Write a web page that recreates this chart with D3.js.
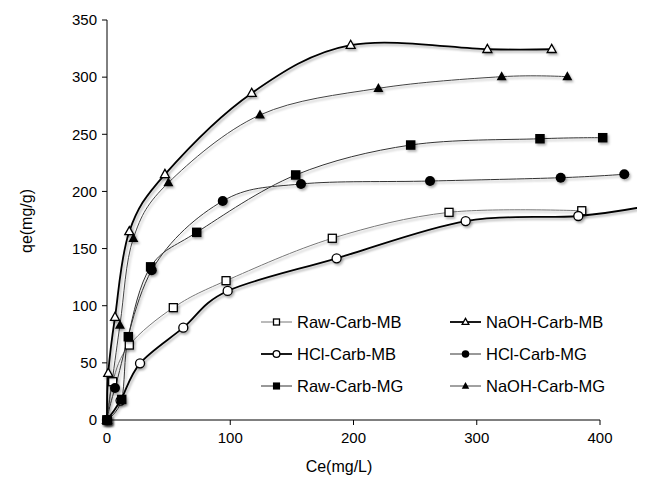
<!DOCTYPE html>
<html><head><meta charset="utf-8">
<script src="https://cdn.jsdelivr.net/npm/d3@7"></script>
<style>body{margin:0;background:#fff;}svg{display:block;font-family:"Liberation Sans",Arial,sans-serif;}</style>
</head><body><svg id="c" width="657" height="478"></svg>
<script>
const seriesNames = ["Raw-Carb-MB","NaOH-Carb-MB","HCl-Carb-MB","HCl-Carb-MG","Raw-Carb-MG","NaOH-Carb-MG"];
const rawMB_x = [0, 4.6, 18.1, 53.8, 96.6, 182.8, 277.5, 385.2];
const rawMB_y = [0, 33.5, 65.6, 98.3, 121.9, 159, 181.7, 183.1];
const naohMB_x = [0, 1, 6.5, 18.1, 47, 117.4, 197.7, 308.6, 360.8];
const naohMB_y = [0, 41, 90, 165, 215, 286, 328, 324.4, 324.4];
const hclMB_x = [0, 11, 26.8, 61.9, 97.9, 186.3, 291, 382.4, 445];
const hclMB_y = [0, 17, 49.6, 80.8, 112.9, 141.5, 174.1, 178.5, 188.5];
const hclMG_x = [0, 6.5, 36.3, 93.9, 157.4, 262.1, 368.1, 419.7];
const hclMG_y = [0, 28, 131, 191.6, 206.5, 209.1, 212, 215];
const rawMG_x = [0, 11.9, 17.3, 35.4, 72.8, 153.1, 246.4, 351.3, 402.2];
const rawMG_y = [0, 18, 72.9, 134, 164.2, 214.4, 240.6, 246.1, 247];
const naohMG_x = [0, 10.5, 21.4, 49.8, 124.1, 220.2, 320.2, 373.5];
const naohMG_y = [0, 83, 159, 207.6, 266.9, 290.2, 300.4, 300.4];
const xTicks = [0, 100, 200, 300, 400];
const yTicks = [0, 50, 100, 150, 200, 250, 300, 350];

const svg = d3.select("#c");
const x = d3.scaleLinear().domain([0, 400]).range([107, 600]);
const y = d3.scaleLinear().domain([0, 350]).range([420, 20]);

const defs = svg.append("defs");
const f = defs.append("filter").attr("id","sh").attr("x","-50%").attr("y","-50%").attr("width","200%").attr("height","200%");
f.append("feDropShadow").attr("dx",1.5).attr("dy",2).attr("stdDeviation",1.2).attr("flood-color","#000").attr("flood-opacity",0.3);
defs.append("clipPath").attr("id","pa").append("rect").attr("x",0).attr("y",0).attr("width",637).attr("height",440);

const zip = (xs, ys) => xs.map((v, i) => [v, ys[i]]);
const series = [
  {name: seriesNames[0], pts: zip(rawMB_x, rawMB_y), marker: "square", fill: "#fff", stroke: "#777", w: 1, ms: 8},
  {name: seriesNames[1], pts: zip(naohMB_x, naohMB_y), marker: "triangle", fill: "#fff", stroke: "#000", w: 1.8, ms: 9},
  {name: seriesNames[2], pts: zip(hclMB_x, hclMB_y), marker: "circle", fill: "#fff", stroke: "#000", w: 1.8, ms: 9},
  {name: seriesNames[3], pts: zip(hclMG_x, hclMG_y), marker: "circle", fill: "#000", stroke: "#333", w: 1, ms: 10},
  {name: seriesNames[4], pts: zip(rawMG_x, rawMG_y), marker: "square", fill: "#000", stroke: "#333", w: 1, ms: 9.5},
  {name: seriesNames[5], pts: zip(naohMG_x, naohMG_y), marker: "triangle", fill: "#000", stroke: "#444", w: 1, ms: 10}
];

function drawMarker(g, type, cx, cy, size, fill, open) {
  const sw = open ? 1.3 : 0;
  const stroke = "#000";
  if (type === "square") {
    g.append("rect").attr("x", cx - size/2).attr("y", cy - size/2).attr("width", size).attr("height", size)
      .attr("fill", fill).attr("stroke", stroke).attr("stroke-width", sw);
  } else if (type === "circle") {
    g.append("circle").attr("cx", cx).attr("cy", cy).attr("r", size/2)
      .attr("fill", fill).attr("stroke", stroke).attr("stroke-width", sw);
  } else {
    const h = size * 0.9;
    g.append("path").attr("d", `M${cx},${cy - h*0.6}L${cx + size/2},${cy + h*0.4}L${cx - size/2},${cy + h*0.4}Z`)
      .attr("fill", fill).attr("stroke", stroke).attr("stroke-width", sw);
  }
}

// axes
const ax = svg.append("g").attr("stroke", "#000").attr("stroke-width", 1);
ax.append("line").attr("x1", x(0)).attr("x2", x(0)).attr("y1", y(350)).attr("y2", y(0));
ax.append("line").attr("x1", x(0)).attr("x2", x(400)).attr("y1", y(0)).attr("y2", y(0));
yTicks.forEach(t => ax.append("line").attr("x1", x(0) - 5).attr("x2", x(0)).attr("y1", y(t)).attr("y2", y(t)));
xTicks.forEach(t => ax.append("line").attr("x1", x(t)).attr("x2", x(t)).attr("y1", y(0)).attr("y2", y(0) + 5));

svg.append("g").selectAll("text").data(yTicks).join("text")
  .attr("x", x(0) - 10).attr("y", d => y(d)).attr("dy", "0.35em").attr("text-anchor", "end")
  .attr("font-size", 15).attr("fill", "#000").text(d => d);
svg.append("g").selectAll("text").data(xTicks).join("text")
  .attr("x", d => x(d)).attr("y", 443).attr("text-anchor", "middle")
  .attr("font-size", 15).attr("fill", "#000").text(d => d);
svg.append("text").attr("x", 339).attr("y", 472).attr("text-anchor", "middle").attr("font-size", 16).text("Ce(mg/L)");
svg.append("text").attr("transform", "translate(32,221) rotate(-90)").attr("text-anchor", "middle").attr("font-size", 16).text("qe(mg/g)");

// series
const line = d3.line().x(d => x(d[0])).y(d => y(d[1])).curve(d3.curveCardinal.tension(0));
const plot = svg.append("g").attr("clip-path", "url(#pa)");
[0, 4, 3, 5, 2, 1].forEach(i => {
  const s = series[i];
  plot.append("path").attr("d", line(s.pts)).attr("fill", "none").attr("stroke", s.stroke).attr("stroke-width", s.w).attr("filter", "url(#sh)");
});
[0, 2, 1, 4, 3, 5].forEach(i => {
  const s = series[i];
  const g = plot.append("g").attr("filter", "url(#sh)");
  s.pts.forEach(p => drawMarker(g, s.marker, x(p[0]), y(p[1]), s.ms, s.fill, s.fill === "#fff"));
});

// legend
const legCols = [261, 450];
const legRows = [322, 354, 386];
series.forEach((s, i) => {
  const col = i % 2, row = Math.floor(i / 2);
  const lx = legCols[col], ly = legRows[row];
  const g = svg.append("g");
  g.append("line").attr("x1", lx).attr("x2", lx + 31).attr("y1", ly).attr("y2", ly).attr("stroke", s.stroke).attr("stroke-width", s.w);
  drawMarker(g, s.marker, lx + 15.5, ly, s.ms * 0.75, s.fill, s.fill === "#fff");
  g.append("text").attr("x", lx + 36).attr("y", ly).attr("dy", "0.35em").attr("font-size", 16.5).attr("fill", "#000").text(s.name);
});
</script></body></html>
